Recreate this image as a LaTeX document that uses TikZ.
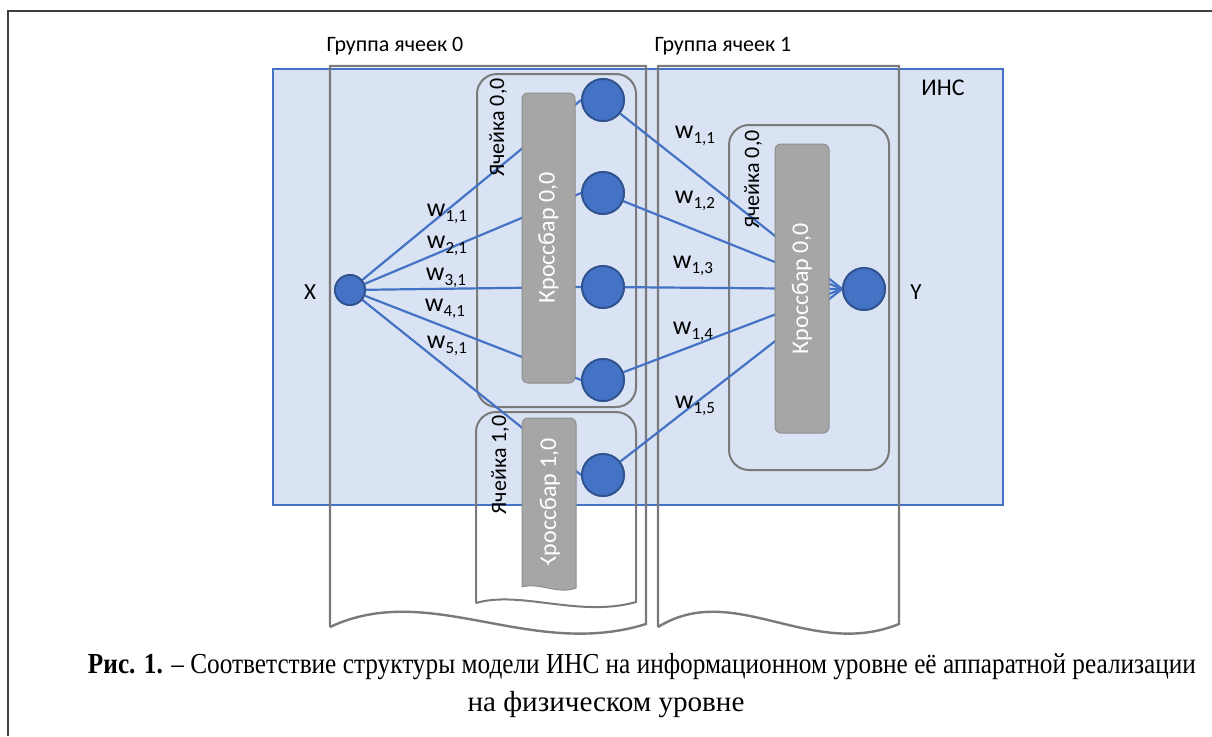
\documentclass[tikz,border=0pt]{standalone}
\usepackage{fontspec}
\setmainfont{Liberation Serif}
\newfontfamily\calfont{Carlito}
\usetikzlibrary{calc}
\definecolor{innbg}{HTML}{DAE3F3}
\definecolor{innline}{HTML}{4472C4}
\definecolor{neufill}{HTML}{4472C4}
\definecolor{neuline}{HTML}{2F528F}
\definecolor{grpline}{HTML}{7A7A7A}
\definecolor{cbfill}{HTML}{A6A6A6}
\definecolor{cbline}{HTML}{8E8E8E}
\definecolor{frameline}{HTML}{404040}
\newcommand\wlab[1]{{\fontsize{26}{26}\selectfont w}\raisebox{-5pt}{\fontsize{17}{17}\selectfont #1}}
\begin{document}
\begin{tikzpicture}[x=1pt,y=-1pt,
  lbl/.style={font=\calfont\fontsize{22}{24}\selectfont, inner sep=0pt},
  grp/.style={draw=grpline, line width=2.4pt},
  cellbox/.style={draw=grpline, line width=2pt, rounded corners=20pt, inner sep=0pt},
  cbar/.style={draw=cbline, fill=cbfill, line width=1pt, rounded corners=6pt, inner sep=0pt},
  cbtext/.style={font=\calfont\fontsize{24}{24}\selectfont, text=white, rotate=90, inner sep=0pt},
  celltext/.style={font=\calfont\fontsize{22}{24}\selectfont, rotate=90, inner sep=0pt},
  neuron/.style={circle, draw=neuline, fill=neufill, line width=1.8pt, minimum size=42pt, inner sep=0pt},
  wline/.style={draw=innline, line width=2.2pt},
  wl/.style={font=\calfont, inner sep=0pt}
]
\useasboundingbox (0,0) rectangle (1212,736);
% outer frame
\draw[frameline, line width=2pt] (8,736) -- (8,11) -- (1212,11);
% INS
\node[draw=innline, fill=innbg, line width=1.2pt, minimum width=730pt, minimum height=436pt, inner sep=0pt] (ins) at (638,287) {};
\node[lbl, font=\calfont\fontsize{24}{24}\selectfont] (inslab) at (943,88) {ИНС};
% groups
\draw[grp] (330,627) -- (330,66) -- (646,66) -- (646,624) .. controls (530,660) and (430,580) .. (330,627);
\draw[grp] (658,627) -- (658,66) -- (899,66) -- (899,624) .. controls (810,660) and (734,580) .. (658,627);
\node[lbl] (g0lab) at (395,46) {Группа ячеек 0};
\node[lbl] (g1lab) at (723,46) {Группа ячеек 1};
% cells
\node[cellbox, minimum width=159pt, minimum height=333pt] (c00) at (556.5,240.5) {};
\draw[grpline, line width=2pt] (476,603) -- (476,432) arc[start angle=180, end angle=90, radius=20pt] -- (616,412) arc[start angle=90, end angle=0, radius=20pt] -- (636,602) .. controls (580,618) and (520,590) .. (476,603);
\node[cellbox, minimum width=160pt, minimum height=345pt] (c10) at (809,297.5) {};
% neurons positions
\node[neuron, minimum size=30pt] (xin) at (350,290) {};
\node[neuron] (a1) at (603,100) {};
\node[neuron] (a2) at (603,193) {};
\node[neuron] (a3) at (603,287) {};
\node[neuron] (a4) at (603,380) {};
\node[neuron] (b1) at (603,475) {};
\node[neuron] (yout) at (864,289) {};
% connectors
\draw[wline] (xin) -- (a1.west);
\draw[wline] (xin) -- (a2.west);
\draw[wline] (xin) -- (a3.west);
\draw[wline] (xin) -- (a4.west);
\draw[wline] (xin) -- (b1.west);
\draw[wline] (a1) -- (yout.west);
\draw[wline] (a2) -- (yout.west);
\draw[wline] (a3) -- (yout.west);
\draw[wline] (a4) -- (yout.west);
\draw[wline] (b1) -- (yout.west);
% crossbars
\node[cbar, minimum width=53pt, minimum height=290pt] (cb00) at (548.5,238) {};
\node[cbtext] (cb00t) at (cb00.center) {Кроссбар 0,0};
\draw[cbline, fill=cbfill, line width=1pt] (522,587) -- (522,424) arc[start angle=180, end angle=90, radius=6pt] -- (570,418) arc[start angle=90, end angle=0, radius=6pt] -- (576,588) .. controls (558,595) and (540,582) .. (522,587);
\begin{scope}
\clip (500,420) rectangle (600,564);
\node[cbtext] (cb10t) at (550,503.5) {Кроссбар 1,0};
\end{scope}
\node[cbar, minimum width=54pt, minimum height=289pt] (cb01) at (802,288.5) {};
\node[cbtext] (cb01t) at (cb01.center) {Кроссбар 0,0};
% redraw neurons on top
\node[neuron] at (a1) {};
\node[neuron] at (a2) {};
\node[neuron] at (a3) {};
\node[neuron] at (a4) {};
\node[neuron] at (b1) {};
\node[neuron] at (yout) {};
\node[neuron, minimum size=30pt] at (xin) {};
% cell labels
\node[celltext] (c00t) at (498,127.5) {Ячейка 0,0};
\node[celltext] (c10t) at (500,465) {Ячейка 1,0};
\node[celltext] (c01t) at (753,179.5) {Ячейка 0,0};
% X Y labels
\node[lbl, font=\calfont\fontsize{23}{24}\selectfont] (xlab) at (310,292) {X};
\node[lbl, font=\calfont\fontsize{23}{24}\selectfont] (ylab) at (916,292) {Y};
% weights
\node[wl] (w11) at (447,214) {\wlab{1,1}};
\node[wl] (w21) at (447,246) {\wlab{2,1}};
\node[wl] (w31) at (446,278) {\wlab{3,1}};
\node[wl] (w41) at (445,309) {\wlab{4,1}};
\node[wl] (w51) at (447,346) {\wlab{5,1}};
\node[wl] (v11) at (695,136) {\wlab{1,1}};
\node[wl] (v12) at (695,201) {\wlab{1,2}};
\node[wl] (v13) at (693,266) {\wlab{1,3}};
\node[wl] (v14) at (693,332) {\wlab{1,4}};
\node[wl] (v15) at (695,406) {\wlab{1,5}};
% caption
\node[anchor=base, inner sep=0pt, font=\fontsize{29}{32}\selectfont] (cap1) at (642,673) {\resizebox{1108pt}{\height}{\textbf{Рис. 1.} – Соответствие структуры модели ИНС на информационном уровне её аппаратной реализации}};
\node[anchor=base, inner sep=0pt, font=\fontsize{29}{32}\selectfont] (cap2) at (606,711) {\resizebox{277pt}{\height}{на физическом уровне}};
\end{tikzpicture}
\end{document}
